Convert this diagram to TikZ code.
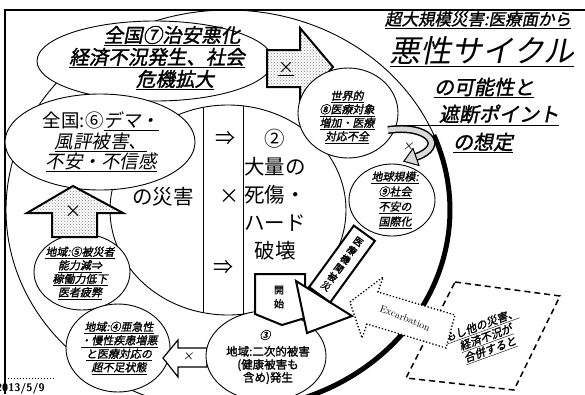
\documentclass[tikz,border=0pt]{standalone}
\usepackage{fontspec}
\newfontfamily\jp{Noto Sans CJK JP}
\newfontfamily\jpsl[FakeSlant=0.2]{Noto Sans CJK JP}
\newfontfamily\jpbs[FakeSlant=0.2,FakeBold=1.5]{Noto Sans CJK JP}
\newfontfamily\jpb[FakeBold=1.5]{Noto Sans CJK JP}
\usetikzlibrary{shapes.geometric,patterns}
\newcommand{\myul}[1]{\underline{#1}}
\newcommand{\setfs}[2]{\fontsize{#1}{#2}\selectfont}
\begin{document}
\begin{tikzpicture}[x=1pt,y=-1pt,
  bubble/.style={draw, ellipse, fill=white, line width=0.9pt, inner sep=0pt},
  txt/.style={inner sep=0pt, align=center},
  patarrow/.style={draw, line width=2pt, preaction={fill=white}, pattern=crosshatch dots, pattern color=gray},
  openarrow/.style={draw, line width=1.2pt, fill=white},
  smalltxt/.style={txt, font={\jpbs\setfs{11}{13.5}}}
]
\fill[white] (0,0) rectangle (585,394);
\useasboundingbox (0,0) rectangle (585,394);

% the big cycle
\draw[line width=0.9pt] (228,210) ellipse [x radius=222, y radius=200];
\draw[line width=5pt] (433.8,135.1) arc[start angle=-22, end angle=70, x radius=222, y radius=200];
% frame
\draw[line width=1.5pt] (5,394) -- (5,10) -- (585,10);

% (1) x (2) ellipse with band
\node[bubble, minimum width=236pt, minimum height=210pt] (e1) at (228,210) {};
\draw[line width=1pt] (203,107.4) -- (203,312.6);
\draw[line width=0.7pt] (243,105.8) -- (243,314.2);
\node[txt, font={\jp\setfs{20}{24}}] (ar1) at (225,138) {⇒};
\node[txt, font={\jp\setfs{20}{24}}] (x1) at (229,197) {×};
\node[txt, font={\jp\setfs{20}{24}}] (ar2) at (223,267) {⇒};
\node[txt, font={\jp\setfs{20.5}{28}}] (t2) at (275,195) {②\\大量の\\死傷・\\ハード\\破壊};
\node[txt, font={\jp\setfs{20.5}{24}}] (t1) at (163,197) {の災害};

% (7) bubble
\node[bubble, minimum width=236pt, minimum height=80pt] (e7) at (155,61) {};
\node[txt, font={\jpbs\setfs{19.5}{22}}] (t7a) at (172,36) {\myul{全国⑦治安悪化}};
\node[txt, font={\jpbs\setfs{19.5}{22}}] (t7b) at (157,58) {\myul{経済不況発生、社会}};
\node[txt, font={\jpbs\setfs{19.5}{22}}] (t7c) at (175,80) {\myul{危機拡大}};

% top block arrow
\draw[patarrow] (267,50) -- (300,50) -- (300,28) -- (333,67) -- (300,105) -- (300,87) -- (267,87) -- cycle;
\node[txt, font={\jp\setfs{16}{18}}] (x7) at (286,69) {\myul{×}};

% (6) bubble
\node[bubble, minimum width=190pt, minimum height=96pt] (e6) at (100,142) {};
\node[txt, font={\jpsl\setfs{18.5}{20.5}}] (t6) at (101,142) {{\jp 全国:⑥}\myul{デマ・}\\\myul{風評被害、}\\\myul{不安・不信感}};

% (5) bubble and up arrow
\node[bubble, minimum width=96pt, minimum height=76pt] (e5) at (82,272) {};
\node[smalltxt] (t5) at (80,273) {\myul{地域:⑤被災者}\\\myul{能力減⇒}\\\myul{稼働力低下}\\\myul{医者疲弊}};
\draw[patarrow] (52,237) -- (52,213) -- (27,213) -- (73,186) -- (123,213) -- (97,213) -- (97,237) -- cycle;
\node[txt, font={\jp\setfs{17}{18}}] (x5) at (73,212) {×};

% (4) bubble and left arrow
\node[bubble, minimum width=104pt, minimum height=88pt] (e4) at (118,348) {};
\node[smalltxt] (t4) at (119,348) {\myul{地域:④亜急性}\\\myul{・慢性疾患増悪}\\\myul{と医療対応の}\\\myul{超不足状態}};
\draw[openarrow] (163,358) -- (178,340) -- (178,348) -- (207,348) -- (207,367) -- (178,367) -- (178,377) -- cycle;
\node[txt, font={\jpsl\setfs{11}{12}}] (x4) at (188,357) {×};

% (3) bubble
\node[bubble, minimum width=120pt, minimum height=90pt] (e3) at (266,356) {};
\node[txt, font={\jpbs\setfs{11}{12}}] (n3) at (265,335) {③};
\node[txt, font={\jpb\setfs{11.5}{13}}] (t3) at (268,365) {地域:二次的被害\\(健康被害も\\含め)発生};

% dashed box
\draw[line width=1.5pt, dash pattern=on 6pt off 4pt] (455,282) -- (560,296) -- (514,390) -- (406,378) -- cycle;
\node[txt, rotate=20, font={\jpbs\setfs{11}{13}}] (tbox) at (486,338) {\myul{もし他の災害、}\\\myul{経済不況が}\\\myul{合併すると}};

% excarbation arrow
\draw[line width=1.3pt, dotted, fill=white] (350,302) -- (383,277) -- (378,292) -- (455,315) -- (446,348) -- (367,324) -- (362,338) -- cycle;
\node[txt, rotate=-22, font={\setfs{10}{12}}] (exc) at (405,318) {Excarbation};

% start box and big arrow
\draw[line width=2pt, fill=white] (255,274) -- (305,274) -- (305,318) -- (282,325) -- (255,314) -- cycle;
\node[txt, font={\jpb\setfs{10}{14}}] (start) at (279,297) {開\\始};
\draw[line width=2pt, fill=white] (296,281) -- (352,316) -- (307,333) -- cycle;
\node[draw, line width=2pt, fill=white, minimum width=26pt, minimum height=76pt, rotate=-36, inner sep=1pt, align=center, font={\jpb\setfs{9.5}{11}}] (r1) at (342,264) {医\\療\\機\\関\\被\\災};

% (8) bubble
\node[bubble, minimum width=100pt, minimum height=90pt] (e8) at (348,113) {};
\node[smalltxt] (t8) at (347,117) {\myul{世界的}\\\myul{⑧医療対象}\\\myul{増加・医療}\\\myul{対応不全}};

% (9) bubble
\node[bubble, minimum width=86pt, minimum height=72pt] (e9) at (392,200) {};
\node[txt, font={\jpbs\setfs{11}{15}}] (t9) at (395,200) {\myul{地球規模:}\\\myul{⑨社会}\\\myul{不安の}\\\myul{国際化}};

% curved arrow from (8) to (9)
\coordinate (c1) at (388,130);
\coordinate (c2) at (416,157);
\draw[line width=8pt] (c1) .. controls (428,124) and (447,146) .. (c2);
\draw[line width=5pt, gray!30] (c1) .. controls (428,124) and (447,146) .. (c2);
\draw[line width=1pt, fill=gray!30] (419,165.5) -- (403.8,161.3) -- (413,148.5) -- cycle;
\node[txt, font={\jpsl\setfs{11}{12}}] (x8) at (408,147) {×};

% title
\node[txt, font={\jpbs\setfs{16.5}{18}}] (title1) at (478,20) {\myul{超大規模災害:医療面から}};
\node[txt, font={\jpsl\setfs{31}{34}}] (title2) at (482,52) {\myul{悪性サイクル}};
\node[txt, font={\jpbs\setfs{20}{22}}] (title3) at (484,88) {\myul{の可能性と}};
\node[txt, font={\jpbs\setfs{20}{22}}] (title4) at (483,115) {\myul{\hspace{32pt}遮断ポイント}};
\node[txt, font={\jpbs\setfs{20}{22}}] (title5) at (483,143) {\myul{の想定}};

% footer
\draw[line width=1pt, dotted] (8,378) -- (55,378);
\node[anchor=west, inner sep=0pt, font={\sffamily\bfseries\setfs{11}{12}}] (date) at (-4,389) {2013/5/9};
\end{tikzpicture}
\end{document}
